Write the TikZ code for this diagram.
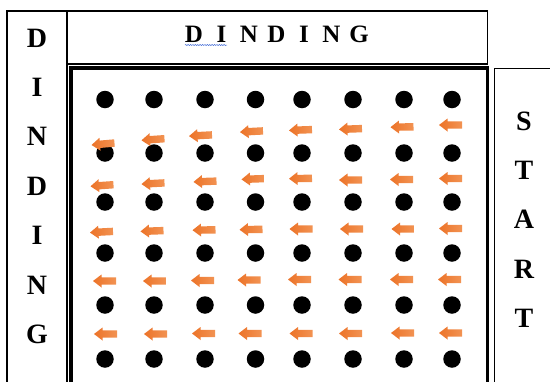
\documentclass[tikz,border=0pt]{standalone}
\usepackage{fontspec}
\setmainfont{Liberation Serif}
\usetikzlibrary{decorations.pathmorphing}
\definecolor{arrowor}{HTML}{EC7328}
\definecolor{arrowlt}{HTML}{F29353}
\definecolor{squig}{HTML}{4A72D9}
\tikzset{
  frame/.style={draw=black, line width=1.6pt},
  heavyframe/.style={draw=black, line width=3.5pt},
  dot/.style={circle, fill=black, inner sep=0pt, minimum size=17.5pt},
  sideletter/.style={font=\fontsize{28}{28}\selectfont\bfseries, inner sep=0pt},
  topletter/.style={font=\fontsize{25}{25}\selectfont\bfseries, inner sep=0pt},
  larrow/.pic={
    \path[left color=arrowor, right color=arrowlt]
      (-11.5,0) -- (-3,-6.5) -- (-3,-3.7) -- (11.5,-3.7)
      -- (11.5,3.7) -- (-3,3.7) -- (-3,6.5) -- cycle;
  },
}

\begin{document}
\begin{tikzpicture}[x=1pt, y=-1pt]
  \useasboundingbox (0,0) rectangle (550,381);
  \clip (0,0) rectangle (550,381);

  % frames
  \draw[frame] (7,11) rectangle (67,400);
  \draw[frame] (67,11) rectangle (487.5,64);
  \draw[heavyframe] (71,68) rectangle (487.5,400);
  \draw[frame] (494.5,68.5) rectangle (570,400);

  % side and top labels
  \foreach \ch [count=\i] in {D,I,N,D,I,N,G}
    \node[sideletter] (left\i) at (37,{38+49.4*(\i-1)}) {\ch};
  \foreach \ch [count=\i] in {D,I,N,D,I,N,G}
    \node[topletter] (top\i) at ({194+27.5*(\i-1)},34) {\ch};
  \foreach \ch [count=\i] in {S,T,A,R,T}
    \node[sideletter] (start\i) at (524,{121+49.3*(\i-1)}) {\ch};
  \draw[squig, line width=0.5pt, decorate,
        decoration={snake, amplitude=0.6pt, segment length=2.4pt}]
    (185,45) -- (227,45);

  % dots
  \foreach \r/\y in {1/99.5, 2/153, 3/202, 4/253, 5/305, 6/359}
    \foreach \c/\x in {1/105, 2/154, 3/205, 4/255.5, 5/302, 6/353, 7/404, 8/452}
      \node[dot] (d\r\c) at (\x,\y) {};

  % arrows
  \foreach \x/\y/\a in {103/144/5, 153/139.5/4, 200.5/135.5/3, 251.5/131.5/3,
                        300.5/130/2, 350.5/129/2, 402/127/1, 450.5/125/0,
                        102/185.5/4, 153/183.5/3, 205/181.5/2, 253/179/2,
                        300.5/178.5/1, 350.5/180/0, 401.5/179.5/0, 450.5/178.5/0,
                        101.5/232/3, 152/231/2, 204/230/1, 251/229.5/1,
                        301/229/0, 351.5/229/0, 403/229/0, 450.5/228.5/0,
                        104.5/281/0, 154.5/281/0, 202.5/280.5/0, 249/280/0,
                        299.5/279.5/0, 350/279.5/0, 401.5/279.5/0, 449.5/279.5/0,
                        105.5/334/0, 155.5/334/0, 203.5/333.5/0, 250/333.5/0,
                        301/333.5/0, 350.5/333.5/0, 402.5/333/0, 450.5/333/0}
    \pic[rotate=\a] at (\x,\y) {larrow};
\end{tikzpicture}
\end{document}
